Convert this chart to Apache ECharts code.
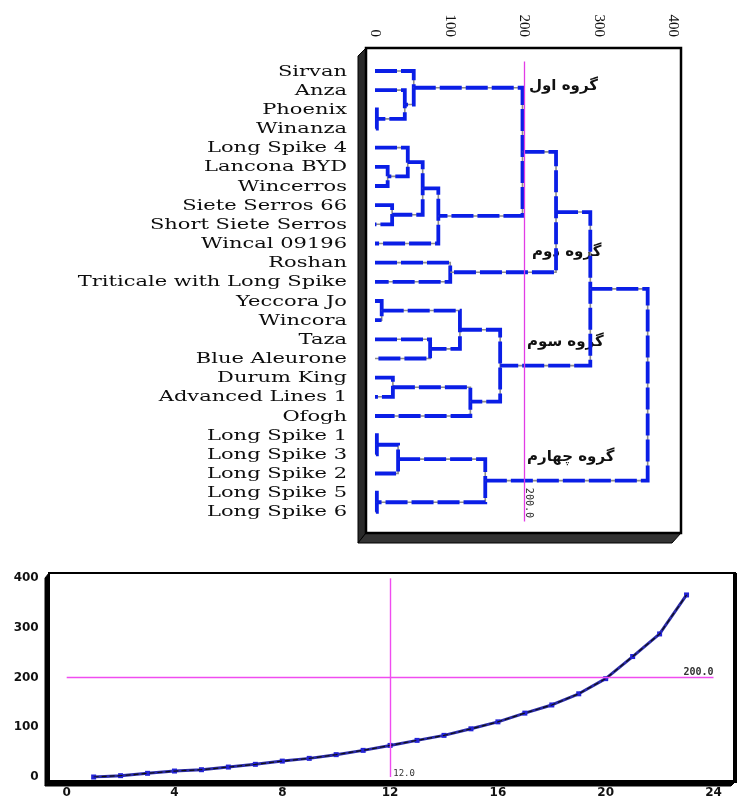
<!DOCTYPE html>
<html>
<head>
<meta charset="utf-8">
<script src="https://cdn.jsdelivr.net/npm/echarts@6/dist/echarts.min.js"></script>
<style>
html,body{margin:0;padding:0;background:#fff;}
#chart{width:740px;height:799px;}
</style>
</head>
<body>
<div id="chart"></div>
<script>
// ---------- DATA ----------
const leaves = ['Sirvan','Anza','Phoenix','Winanza','Long Spike 4','Lancona BYD','Wincerros',
  'Siete Serros 66','Short Siete Serros','Wincal 09196','Roshan','Triticale with Long Spike',
  'Yeccora Jo','Wincora','Taza','Blue Aleurone','Durum King','Advanced Lines 1','Ofogh',
  'Long Spike 1','Long Spike 3','Long Spike 2','Long Spike 5','Long Spike 6'];

// merges: [childA, childB, height]; leaves are 0..23, merge k becomes node 24+k
const merges = [
  [2, 3, 2.5],    // 24 Phoenix + Winanza
  [19, 20, 2.5],  // 25 Long Spike 1 + 3
  [22, 23, 2.5],  // 26 Long Spike 5 + 6
  [12, 13, 9],    // 27 Yeccora Jo + Wincora
  [5, 6, 17],     // 28 Lancona BYD + Wincerros
  [7, 8, 23],     // 29 Siete Serros 66 + Short Siete Serros
  [16, 17, 24],   // 30 Durum King + Advanced Lines 1
  [25, 21, 31],   // 31 + Long Spike 2
  [1, 24, 40],    // 32 Anza + (24)
  [4, 28, 44],    // 33 Long Spike 4 + (28)
  [0, 32, 52],    // 34 Sirvan + (32)
  [33, 29, 64],   // 35
  [14, 15, 74],   // 36 Taza + Blue Aleurone
  [35, 9, 85],    // 37 + Wincal 09196
  [10, 11, 101],  // 38 Roshan + Triticale
  [27, 36, 114],  // 39
  [30, 18, 128],  // 40 + Ofogh
  [31, 26, 148],  // 41 group 4
  [39, 40, 168],  // 42 group 3
  [34, 37, 198],  // 43 group 1 + 2
  [43, 38, 243],  // 44
  [44, 42, 289],  // 45
  [45, 41, 366]   // 46 root
];

const distanceTicks = [0, 100, 200, 300, 400];
const cutDistance = 200;
const groupNames = ['گروه اول', 'گروه دوم', 'گروه سوم', 'گروه چهارم'];

// agglomeration coefficients per step (lower chart)
const coefficients = [0, 2.7, 7.4, 12, 14.7, 20, 25.5, 32, 37.5, 45, 53.6, 63.6, 73.7,
  83.8, 97, 111, 128.6, 145, 167.5, 198, 242.5, 288, 366.5];
const steps = coefficients.map((v, i) => i + 1);
const stepTicks = [0, 4, 8, 12, 16, 20, 24];
const cutStep = 12;

// ---------- BUILD DENDROGRAM SEGMENTS ----------
const nodeH = [], nodeY = [];
leaves.forEach((n, i) => { nodeH[i] = 0; nodeY[i] = i; });
const segData = merges.map((m, k) => {
  const a = m[0], b = m[1], h = m[2];
  const id = leaves.length + k;
  nodeH[id] = h;
  nodeY[id] = (nodeY[a] + nodeY[b]) / 2;
  return [nodeH[a], nodeY[a], h, nodeY[b], nodeH[b]];
});

const chart = echarts.init(document.getElementById('chart'));

const hiddenPoint = { symbol: 'circle', symbolSize: 1, itemStyle: { color: 'rgba(0,0,0,0)' } };

const option = {
  backgroundColor: '#ffffff',
  animation: false,
  grid: [
    { left: 375, width: 298, top: 61.4, height: 460, containLabel: false, outerBoundsMode: 'none' },
    { left: 66.7, width: 646.8, top: 578.3, height: 198.7, containLabel: false, outerBoundsMode: 'none' }
  ],
  xAxis: [
    {
      gridIndex: 0, type: 'value', position: 'top', min: 0, max: 400, interval: 100,
      offset: 13.4,
      axisLine: { show: false }, axisTick: { show: false }, splitLine: { show: false },
      axisLabel: { rotate: -90, margin: 11, color: '#111', fontFamily: 'Liberation Serif', fontSize: 15,
        formatter: function (v) { return distanceTicks.indexOf(v) >= 0 ? String(v) : ''; } }
    },
    {
      gridIndex: 1, type: 'value', min: 0, max: 24, interval: 4,
      axisLine: { show: false }, axisTick: { show: false }, splitLine: { show: false },
      axisLabel: { margin: 10, color: '#111', fontFamily: 'DejaVu Sans', fontWeight: 'bold', fontSize: 12,
        formatter: function (v) { return stepTicks.indexOf(v) >= 0 ? String(v) : ''; } }
    }
  ],
  yAxis: [
    {
      gridIndex: 0, type: 'value', min: -0.5, max: 23.5, inverse: true, show: false
    },
    {
      gridIndex: 1, type: 'value', min: 0, max: 400, interval: 100,
      axisLine: { show: false }, axisTick: { show: false }, splitLine: { show: false },
      axisLabel: { margin: 28, color: '#111', fontFamily: 'DejaVu Sans', fontWeight: 'bold', fontSize: 12 }
    }
  ],
  series: [
    {
      // leaf names, placed on the leaf positions of the distance scale
      type: 'custom', name: 'leafNames',
      xAxisIndex: 0, yAxisIndex: 0, silent: true,
      data: leaves.map((n, i) => [0, i]),
      renderItem: function (params, api) {
        const p = api.coord([api.value(0), api.value(1)]);
        return {
          type: 'text', x: p[0] - 28, y: p[1] + 1, scaleX: 1.5,
          style: {
            text: leaves[params.dataIndex], textAlign: 'right', textVerticalAlign: 'middle',
            font: '14px "DejaVu Serif"', fill: '#0d0d0d'
          }
        };
      }
    },
    {
      type: 'custom', name: 'dendrogram',
      xAxisIndex: 0, yAxisIndex: 0,
      data: segData,
      encode: { x: [0, 2, 4], y: [1, 3] },
      renderItem: function (params, api) {
        const p1 = api.coord([api.value(0), api.value(1)]);
        const p2 = api.coord([api.value(2), api.value(1)]);
        const p3 = api.coord([api.value(2), api.value(3)]);
        const p4 = api.coord([api.value(4), api.value(3)]);
        const pts = [p1, p2, p3, p4];
        return {
          type: 'group',
          children: [
            { type: 'polyline', shape: { points: pts }, style: { stroke: '#8c8c8c', lineWidth: 1.6, fill: null } },
            { type: 'polyline', shape: { points: pts }, style: { stroke: '#0a1ee6', lineWidth: 3.8, lineDash: [22, 4], fill: null, lineJoin: 'miter' } }
          ]
        };
      },
      markLine: {
        silent: true, symbol: 'none', animation: false,
        lineStyle: { color: '#e23ce6', width: 1.3, type: 'solid' },
        label: { show: false },
        data: [{ xAxis: cutDistance }]
      },
      markPoint: Object.assign({
        silent: true,
        data: [{ coord: [cutDistance, 21.75], value: cutDistance }],
        label: {
          show: true, formatter: function (p) { return p.value.toFixed(1); },
          rotate: -90, position: 'inside', align: 'left', verticalAlign: 'bottom',
          fontFamily: 'DejaVu Sans Mono', fontSize: 10, color: '#333'
        }
      }, hiddenPoint),
      z: 3
    },
    {
      type: 'line', xAxisIndex: 1, yAxisIndex: 1,
      data: steps.map((s, i) => [s, coefficients[i]]),
      symbol: 'rect', symbolSize: 5,
      itemStyle: { color: '#2323d6' },
      lineStyle: { color: '#2a2aa8', width: 3 },
      markLine: {
        silent: true, symbol: 'none', animation: false,
        lineStyle: { color: '#f04cf0', width: 1.4, type: 'solid' },
        data: [
          { yAxis: cutDistance, label: { show: true, position: 'insideEndTop', distance: [0, 0], formatter: '200.0', fontFamily: 'DejaVu Sans Mono', fontWeight: 'bold', fontSize: 10, color: '#333' } },
          { xAxis: cutStep, label: { show: false } }
        ]
      },
      markPoint: Object.assign({
        silent: true,
        data: [{ coord: [cutStep, 0], value: cutStep }],
        label: {
          show: true, formatter: function (p) { return p.value.toFixed(1); },
          position: 'inside', offset: [14, -3],
          fontFamily: 'DejaVu Sans Mono', fontSize: 9, color: '#333'
        }
      }, hiddenPoint),
      z: 3
    },
    {
      type: 'line', xAxisIndex: 1, yAxisIndex: 1,
      data: steps.map((s, i) => [s, coefficients[i]]),
      symbol: 'none', silent: true,
      lineStyle: { color: '#111', width: 1.2, type: [5, 3] },
      z: 4
    }
  ],
  graphic: [
    // upper 3D frame
    { type: 'polygon', shape: { points: [[366, 48], [358, 56], [358, 543], [366, 533]] }, style: { fill: '#2a2a2a', stroke: '#000', lineWidth: 1 } },
    { type: 'polygon', shape: { points: [[358, 543], [672, 543], [681, 533], [366, 533]] }, style: { fill: '#333', stroke: '#000', lineWidth: 1 } },
    { type: 'rect', shape: { x: 366, y: 48, width: 315, height: 485 }, style: { fill: null, stroke: '#000', lineWidth: 2.5 } },
    // lower frame
    { type: 'polygon', shape: { points: [[49, 573], [45, 578], [45, 786], [49, 781]] }, style: { fill: '#000', stroke: '#000', lineWidth: 1 } },
    { type: 'polygon', shape: { points: [[45, 786], [731, 786], [736, 781], [49, 781]] }, style: { fill: '#000', stroke: '#000', lineWidth: 1 } },
    { type: 'rect', shape: { x: 49, y: 573, width: 686, height: 208 }, style: { fill: null, stroke: '#000', lineWidth: 2 } },
    { type: 'rect', shape: { x: 733, y: 573, width: 4, height: 210 }, style: { fill: '#000' } },
    // group labels
    { type: 'text', left: 529, top: 79, style: { text: groupNames[0], font: 'bold 15px "DejaVu Sans"', fill: '#111' } },
    { type: 'text', left: 532, top: 245, style: { text: groupNames[1], font: 'bold 15px "DejaVu Sans"', fill: '#111' } },
    { type: 'text', left: 527, top: 335, style: { text: groupNames[2], font: 'bold 15px "DejaVu Sans"', fill: '#111' } },
    { type: 'text', left: 527, top: 450, style: { text: groupNames[3], font: 'bold 15px "DejaVu Sans"', fill: '#111' } }
  ]
};
chart.setOption(option);
</script>
</body>
</html>
